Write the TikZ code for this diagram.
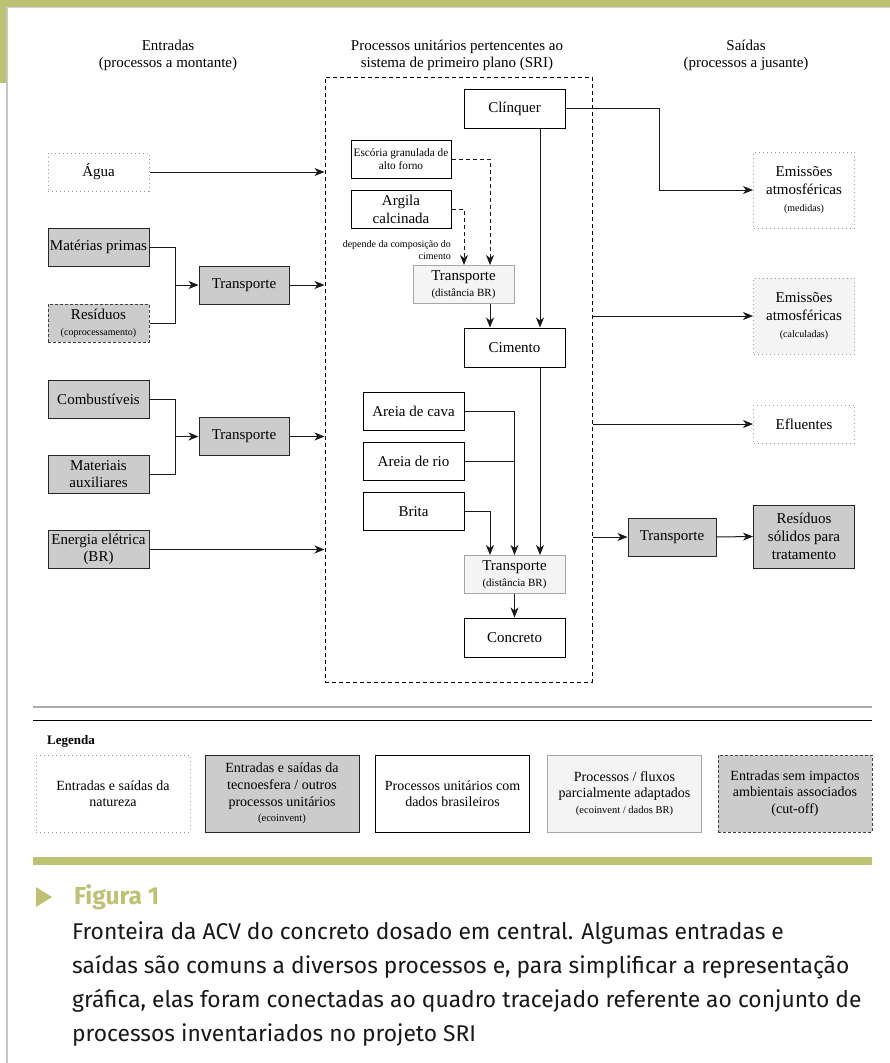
\documentclass[tikz,border=0pt]{standalone}
\usepackage{fontspec}
\setmainfont{Liberation Serif}
\newfontfamily\capfont{Fira Sans}
\usetikzlibrary{arrows.meta,calc}
\definecolor{olive}{HTML}{BEC172}
\definecolor{ecogray}{HTML}{CCCCCC}
\definecolor{partgray}{HTML}{F4F4F4}
\newcommand{\fs}[1]{\fontsize{#1}{\fpeval{#1*1.18}}\selectfont}
\tikzset{
  bx/.style={rectangle, minimum width=101pt, minimum height=38pt, inner sep=1pt, align=center, font=\fs{15}, line width=1pt},
  nat/.style={bx, draw=gray!80, dash pattern=on 1pt off 3pt, fill=white},
  eco/.style={bx, draw=black!85, fill=ecogray},
  br/.style={bx, draw=black, fill=white},
  part/.style={bx, draw=gray!70, fill=partgray},
  cut/.style={bx, draw=black!75, dash pattern=on 3pt off 2pt, fill=ecogray},
  arr/.style={-{Stealth[length=10pt,width=8pt,inset=3pt]}, line width=1pt, draw=black!90},
  ln/.style={line width=1pt, draw=black!90},
  hdr/.style={align=center, font=\fs{15}, inner sep=0pt},
}
\begin{document}
\begin{tikzpicture}[x=1pt,y=-1pt]
\useasboundingbox (0,0) rectangle (890,1063);
% page border
\fill[white] (0,0) rectangle (890,1063);
\fill[olive] (0,0) rectangle (890,7);
\fill[olive] (0,0) rectangle (6,83);
\draw[gray!45, line width=1.5pt] (6.8,7) -- (6.8,1063);
\draw[gray!35, line width=1pt] (6,7.6) -- (890,7.6);

% headers
\node[hdr] (h1) at (168,55.5) {Entradas\\(processos a montante)};
\node[hdr] (h2) at (457,55.5) {Processos unitários pertencentes ao\\sistema de primeiro plano (SRI)};
\node[hdr] (h3) at (746,55.5) {Saídas\\(processos a jusante)};

% frame
\node[draw=black, dash pattern=on 4pt off 3pt, line width=1pt, minimum width=267pt, minimum height=605pt, inner sep=0pt] (frame) at (458.5,379.5) {};

% left column
\node[nat] (agua) at (98.5,172) {Água};
\node[eco] (mat) at (98.5,247) {Matérias primas};
\node[cut] (res) at (98.5,323) {Resíduos\\[-2pt]{\fs{10}(coprocessamento)}};
\node[eco, minimum width=90pt] (t1) at (244,285) {Transporte};
\node[eco] (comb) at (98.5,399) {Combustíveis};
\node[eco] (maux) at (98.5,474) {Materiais\\auxiliares};
\node[eco, minimum width=90pt] (t2) at (244,436.5) {Transporte};
\node[eco] (ener) at (98.5,549.5) {Energia elétrica\\(BR)};

\coordinate (j1) at (175,285);
\coordinate (j2) at (175,436.5);
\draw[ln] (mat.east) -| (j1);
\draw[ln] (res.east) -| (j1);
\draw[arr] (j1) -- (t1.west);
\draw[ln] (comb.east) -| (j2);
\draw[ln] (maux.east) -| (j2);
\draw[arr] (j2) -- (t2.west);
\draw[arr] (agua.east) -- (agua.east -| frame.west);
\draw[arr] (t1.east) -- (t1.east -| frame.west);
\draw[arr] (t2.east) -- (t2.east -| frame.west);
\draw[arr] (ener.east) -- (ener.east -| frame.west);

% central column
\node[br, minimum height=39pt] (clin) at (514.5,108.5) {Clínquer};
\node[br, minimum width=100pt, font=\fs{11.3}] (esc) at (401,159) {Escória granulada de\\alto forno};
\node[br, minimum width=100pt] (arg) at (401,209.5) {Argila\\calcinada};
\node[font=\fs{10}, align=right, inner sep=0pt, anchor=east] (dep) at (451,250) {depende da composição do\\cimento};
\node[part] (tb) at (463.5,284.5) {Transporte\\[-2pt]{\fs{11}(distância BR)}};
\node[br, minimum height=39pt] (cim) at (514.5,347.5) {Cimento};
\node[br] (cava) at (413.5,411) {Areia de cava};
\node[br] (rio) at (413.5,461) {Areia de rio};
\node[br] (brita) at (413.5,511.5) {Brita};
\node[part] (tc) at (514.5,574.5) {Transporte\\[-2pt]{\fs{11}(distância BR)}};
\node[br, minimum height=39pt] (conc) at (514.5,637.5) {Concreto};

\draw[arr, dash pattern=on 4pt off 3pt] (esc.east) -| ([xshift=26.5pt]tb.north);
\draw[arr, dash pattern=on 4pt off 3pt] (arg.east) -| ([xshift=0.5pt]tb.north);
\draw[arr] ([xshift=26.5pt]tb.south) -- ([xshift=26.5pt]tb.south |- cim.north);
\draw[arr] ([xshift=25.5pt]clin.south) -- ([xshift=25.5pt]clin.south |- cim.north);
\draw[arr] ([xshift=25.5pt]cim.south) -- ([xshift=25.5pt]cim.south |- tc.north);
\draw[arr] (cava.east) -| (tc.north);
\draw[ln] (rio.east) -- (rio.east -| tc.north);
\draw[arr] (brita.east) -| ([xshift=-24.5pt]tc.north);
\draw[arr] (tc.south) -- (conc.north);

% right column
\node[nat, minimum height=76pt, font=\fs{15}] (emm) at (804,190) {Emissões\\atmosféricas\\[-1pt]{\fs{10}(medidas)}};
\node[nat, fill=partgray, minimum height=76pt] (emc) at (804,316) {Emissões\\atmosféricas\\[-1pt]{\fs{10}(calculadas)}};
\node[nat] (efl) at (804,424) {Efluentes};
\node[eco, minimum width=88pt] (t3) at (672,537) {Transporte};
\node[eco, minimum height=63pt] (rss) at (804,536.5) {Resíduos\\sólidos para\\tratamento};

\coordinate (c1) at (659,108.5);
\draw[arr] (clin.east) -- (c1) |- (emm.west);
\draw[arr] (frame.east |- emc.west) -- (emc.west);
\draw[arr] (frame.east |- efl.west) -- (efl.west);
\draw[arr] (frame.east |- t3.west) -- (t3.west);
\draw[arr] (t3.east) -- (rss.west);

% legend
\draw[gray!65, line width=2pt] (33,707) -- (872,707);
\draw[black, line width=1pt] (33,720) -- (872,720);
\node[anchor=west, font=\fs{13}\bfseries, inner sep=0pt] (leg) at (47,741) {Legenda};
\tikzset{lg/.style={minimum width=154pt, minimum height=77pt, font=\fs{14}}}
\node[nat, lg] (l1) at (113,793.5) {Entradas e saídas da\\natureza};
\node[eco, lg] (l2) at (282,793.5) {Entradas e saídas da\\tecnoesfera / outros\\processos unitários\\[-1pt]{\fs{10.5}(ecoinvent)}};
\node[br, lg] (l3) at (452.5,793.5) {Processos unitários com\\dados brasileiros};
\node[part, lg] (l4) at (624.5,793.5) {Processos / fluxos\\parcialmente adaptados\\[-1pt]{\fs{10.5}(ecoinvent / dados BR)}};
\node[cut, lg] (l5) at (795,793.5) {Entradas sem impactos\\ambientais associados\\(cut-off)};

% caption
\fill[olive] (33,857) rectangle (872,865);
\fill[olive] (36,887) -- (52,897) -- (36,907) -- cycle;
\node[anchor=west, inner sep=0pt, font=\capfont\bfseries\fontsize{24.5}{28}\selectfont, text=olive] (fig) at (74,897) {Figura 1};
\node[anchor=north west, inner sep=0pt, align=left, font=\capfont\fontsize{22.8}{34}\selectfont, text=black!90] (cap) at (72,922)
 {Fronteira da ACV do concreto dosado em central. Algumas entradas e\\
  saídas são comuns a diversos processos e, para simplificar a representação\\
  gráfica, elas foram conectadas ao quadro tracejado referente ao conjunto de\\
  processos inventariados no projeto SRI};
\end{tikzpicture}
\end{document}
